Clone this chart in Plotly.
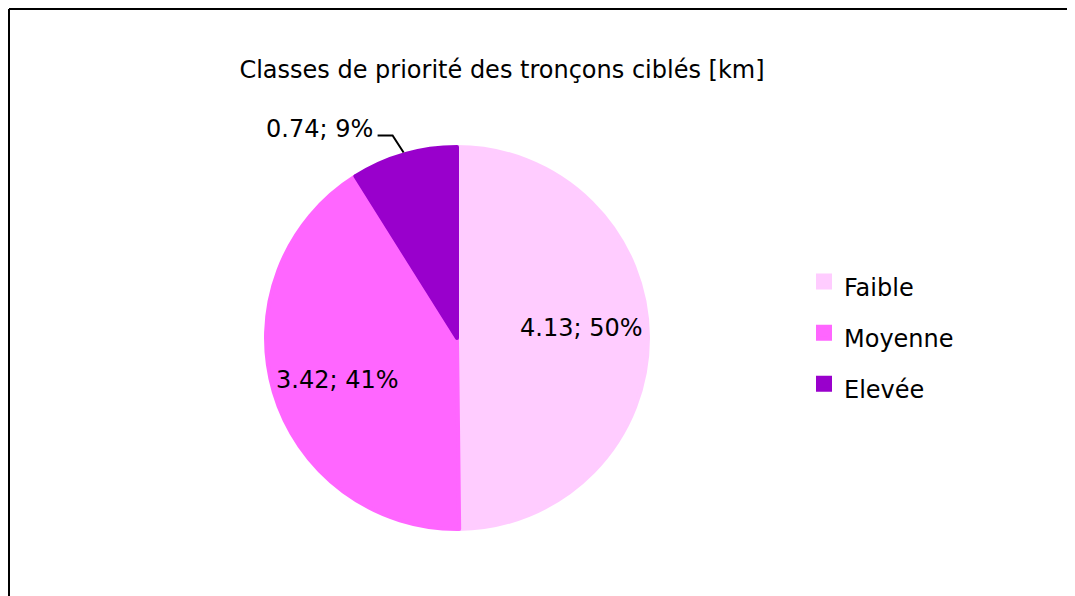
import math
import plotly.graph_objects as go

# chart data
title_text = "Classes de priorité des tronçons ciblés [km]"
classes = ["Faible", "Moyenne", "Elevée"]
lengths_km = [4.13, 3.42, 0.74]
slice_colors = ["#FFCCFF", "#FF66FF", "#9900CC"]

W, H = 1075, 596
FONT = "DejaVu Sans, Liberation Sans, sans-serif"
FS = 24

# pie geometry in figure pixels (the page body adds an 8px offset)
cx, cy, R = 449, 330, 191
label_nudge_y = [-9, 7]  # small vertical tweak of the inside labels (px)

total = sum(lengths_km)
texts = [f"{v:.2f}; {round(100 * v / total)}%" for v in lengths_km]

fig = go.Figure()
fig.add_trace(go.Pie(
    labels=[f"<span style='font-size:{FS}px'>{c}</span>" for c in classes],
    values=lengths_km,
    textinfo="none",
    # same-colour outline only makes the legend squares a bit bigger
    marker=dict(colors=slice_colors, line=dict(color=slice_colors, width=4)),
    sort=False,
    direction="clockwise",
    rotation=0,
    hoverinfo="label+value+percent",
    domain=dict(x=[(cx - R) / W, (cx + R) / W], y=[(H - cy - R) / H, (H - cy + R) / H]),
))


def to_paper(x, y):
    return x / W, 1 - y / H


# data labels: the two big slices inside, the small one outside with a leader line
cum = 0
for i, v in enumerate(lengths_km):
    ang = math.radians(360 * (cum + v / 2) / total)
    cum += v
    if i < 2:
        lx, ly = to_paper(cx + 0.65 * R * math.sin(ang),
                          cy - 0.65 * R * math.cos(ang) + label_nudge_y[i])
        fig.add_annotation(x=lx, y=ly, xref="paper", yref="paper", text=texts[i],
                           showarrow=False, xanchor="center", yanchor="middle",
                           font=dict(family=FONT, size=FS, color="black"))
    else:
        ax_, ay_ = cx + (R + 2) * math.sin(ang), cy - (R + 2) * math.cos(ang)
        lx, ly = to_paper(ax_ - 29, ay_ - 24)
        fig.add_annotation(x=lx, y=ly, xref="paper", yref="paper", text=texts[i],
                           showarrow=False, xanchor="right", yanchor="middle",
                           font=dict(family=FONT, size=FS, color="black"))
        p0 = to_paper(ax_ - 26, ay_ - 17)
        p1 = to_paper(ax_ - 11, ay_ - 17)
        p2 = to_paper(ax_, ay_)
        fig.add_shape(type="path", xref="paper", yref="paper",
                      path=f"M {p0[0]},{p0[1]} L {p1[0]},{p1[1]} L {p2[0]},{p2[1]}",
                      line=dict(color="black", width=2))

# chart-area frame: only the left and top edges fall inside the window
fig.add_shape(type="line", xref="paper", yref="paper",
              x0=1 / W, x1=1 / W, y0=-0.1, y1=1 - 1 / H, line=dict(color="black", width=2))
fig.add_shape(type="line", xref="paper", yref="paper",
              x0=1 / W, x1=1.1, y0=1 - 1 / H, y1=1 - 1 / H, line=dict(color="black", width=2))

fig.update_layout(
    width=W, height=H,
    margin=dict(l=0, r=0, t=0, b=0),
    paper_bgcolor="white",
    plot_bgcolor="white",
    title=dict(text=title_text, x=494 / W, xanchor="center", y=1 - 62 / H, yanchor="middle",
               font=dict(family=FONT, size=FS, color="black")),
    legend=dict(x=796 / W, xanchor="left", y=1 - 243 / H, yanchor="top",
                font=dict(family=FONT, size=37, color="black"), bgcolor="rgba(0,0,0,0)"),
    showlegend=True,
)

fig.write_html("out.html")
